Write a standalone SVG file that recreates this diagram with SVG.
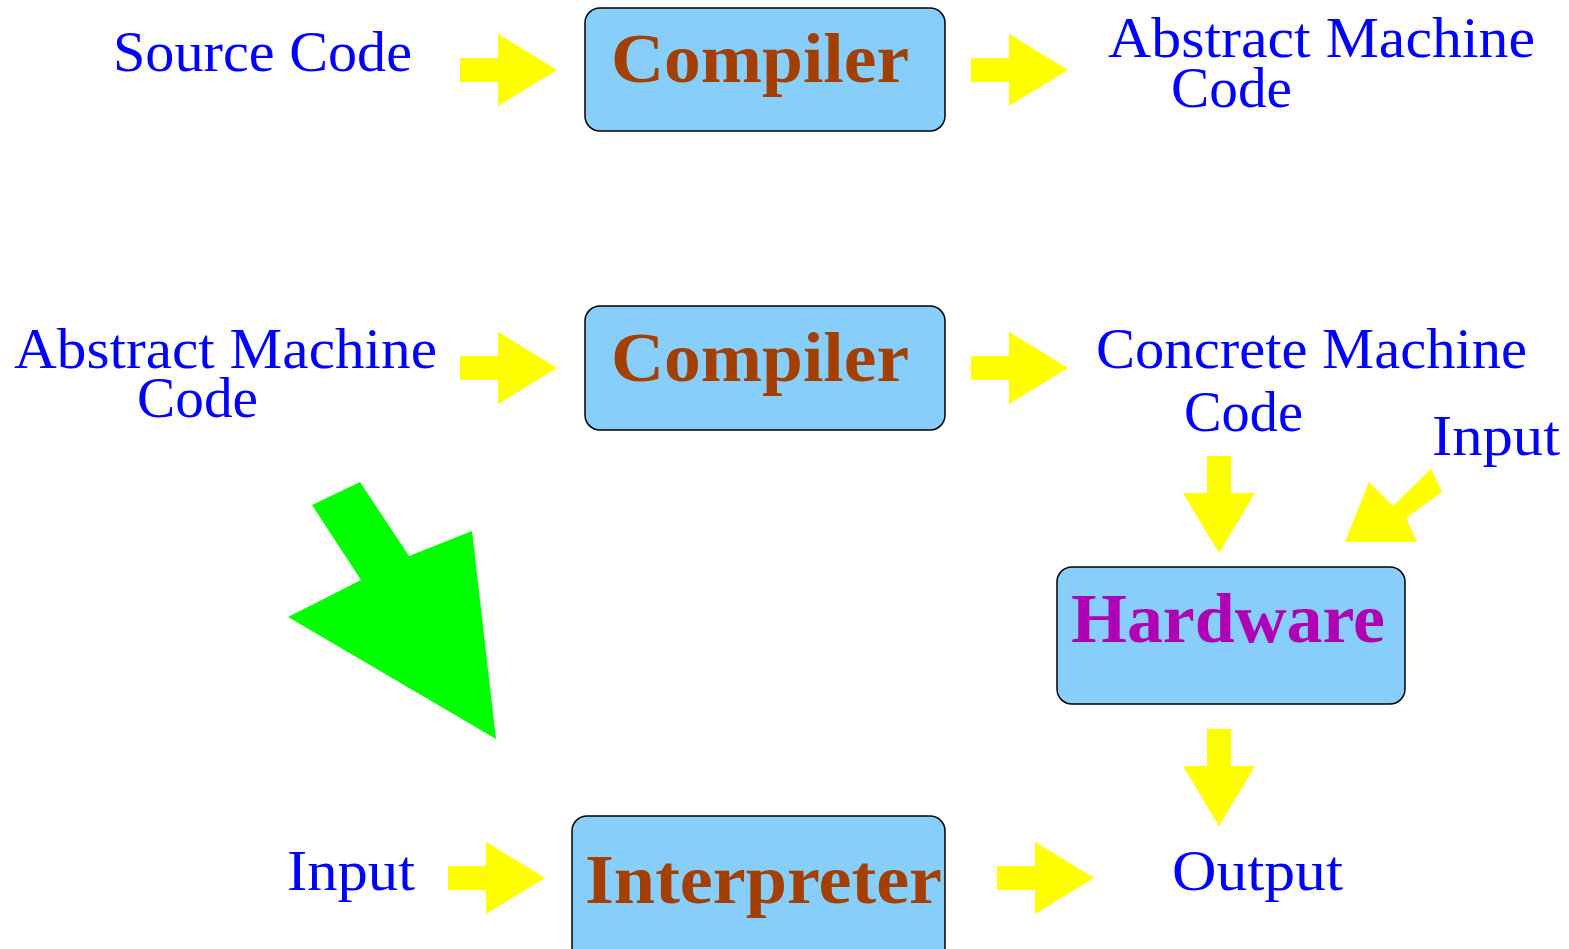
<svg xmlns="http://www.w3.org/2000/svg" width="1569" height="949" viewBox="0 0 1569 949">
<style>
.box{fill:#87CEFA;stroke:#000;stroke-width:1.5}
.lbl{font-family:"Liberation Serif","Times New Roman",serif;font-size:58px;fill:#0000FF}
.bt{font-family:"Liberation Serif","Times New Roman",serif;font-size:70px;font-weight:bold;fill:#A33F00}
.hw{fill:#B000B5}
.ya{fill:#FFFF00}
</style>
<defs>
<polygon id="ra" points="0,-12 38,-12 38,-36 97,0 38,36 38,12 0,12"/>
<polygon id="da" points="-12,0 12,0 12,37 36,37 0,97 -36,37 -12,37"/>
</defs>
<rect width="1569" height="949" fill="#fff"/>
<g id="connectors">
<use href="#ra" class="ya" x="460" y="70"/>
<use href="#ra" class="ya" x="971" y="70"/>
<use href="#ra" class="ya" x="460" y="368"/>
<use href="#ra" class="ya" x="971" y="368"/>
<use href="#ra" class="ya" x="448" y="878"/>
<use href="#ra" class="ya" x="997" y="878"/>
<use href="#da" class="ya" x="1219" y="456"/>
<use href="#da" class="ya" x="1219" y="729"/>
<polygon class="ya" points="1431,469 1442,492 1406,518 1417,542 1345,542 1369,482 1393,506"/>
<polygon fill="#00FF00" points="312,505 360,482 409,556 472,531 496,739 288,617 361,580"/>
</g>
<g id="compiler1">
<rect class="box" x="585" y="8" width="360" height="123" rx="15"/>
<text class="bt" x="611" y="82" textLength="298" lengthAdjust="spacingAndGlyphs">Compiler</text>
</g>
<g id="compiler2">
<rect class="box" x="585" y="306" width="360" height="124" rx="15"/>
<text class="bt" x="611" y="381" textLength="298" lengthAdjust="spacingAndGlyphs">Compiler</text>
</g>
<g id="hardware">
<rect class="box" x="1057" y="567" width="348" height="137" rx="15"/>
<text class="bt hw" x="1071" y="642" textLength="314" lengthAdjust="spacingAndGlyphs">Hardware</text>
</g>
<g id="interpreter">
<rect class="box" x="572" y="816" width="373" height="150" rx="15"/>
<text class="bt" x="585" y="903" textLength="357" lengthAdjust="spacingAndGlyphs">Interpreter</text>
</g>
<g id="source-code">
<text class="lbl" x="113" y="71" textLength="299" lengthAdjust="spacingAndGlyphs">Source Code</text>
</g>
<g id="abstract-code-out">
<text class="lbl" x="1108" y="57" textLength="427" lengthAdjust="spacingAndGlyphs">Abstract Machine</text>
<text class="lbl" x="1171" y="107" textLength="121" lengthAdjust="spacingAndGlyphs">Code</text>
</g>
<g id="abstract-code-in">
<text class="lbl" x="14" y="368" textLength="423" lengthAdjust="spacingAndGlyphs">Abstract Machine</text>
<text class="lbl" x="137" y="417" textLength="121" lengthAdjust="spacingAndGlyphs">Code</text>
</g>
<g id="concrete-code">
<text class="lbl" x="1096" y="368" textLength="431" lengthAdjust="spacingAndGlyphs">Concrete Machine</text>
<text class="lbl" x="1184" y="431" textLength="119" lengthAdjust="spacingAndGlyphs">Code</text>
</g>
<g id="input-hw">
<text class="lbl" x="1432" y="455" textLength="128" lengthAdjust="spacingAndGlyphs">Input</text>
</g>
<g id="input-int">
<text class="lbl" x="287" y="890" textLength="128" lengthAdjust="spacingAndGlyphs">Input</text>
</g>
<g id="output">
<text class="lbl" x="1172" y="890" textLength="171" lengthAdjust="spacingAndGlyphs">Output</text>
</g>
</svg>
